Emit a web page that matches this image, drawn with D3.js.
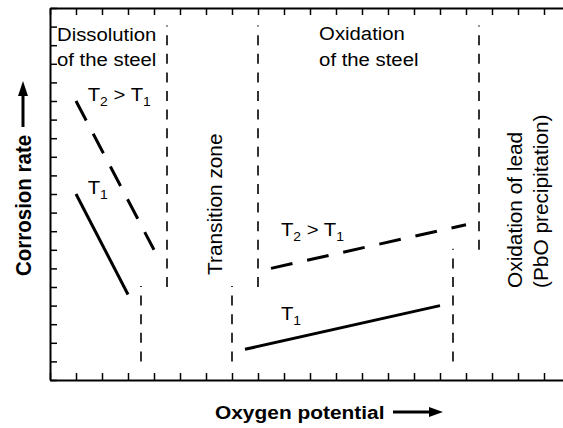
<!DOCTYPE html>
<html>
<head>
<meta charset="utf-8">
<script src="https://cdn.jsdelivr.net/npm/d3@7"></script>
<style>
  html, body { margin: 0; padding: 0; background: #fff; }
  svg { display: block; }
  text { font-family: "Liberation Sans", Arial, Helvetica, sans-serif; fill: #000; }
</style>
</head>
<body>
<div id="chart"></div>
<script>
// Region boundaries (vertical dashed lines), in chart units
const boundaryX = [3.5, 4.5, 7, 8, 15.5, 16.5];
const boundaryFrom = [1, 5, 1, 5, 1, 7];
const boundaryTo = [5, 19, 5, 19, 7, 19];

// Corrosion rate lines [oxygen potential, corrosion rate]
const dissolutionT1 = [[1, 10], [3, 4.6]];
const dissolutionT2 = [[1, 15], [4, 7]];
const oxidationT1 = [[7.5, 1.65], [15, 4]];
const oxidationT2 = [[8.5, 6], [16, 8.35]];

// Annotations: text parts, anchor (chart units)
const labels = [
  { parts: [['Dissolution']], x: 0.27, y: 18.25 },
  { parts: [['of the steel']], x: 0.27, y: 16.9 },
  { parts: [['T'], ['2', 'sub'], [' > T'], ['1', 'sub']], x: 1.45, y: 15.0 },
  { parts: [['T'], ['1', 'sub']], x: 1.45, y: 10.0 },
  { parts: [['Oxidation']], x: 10.35, y: 18.3 },
  { parts: [['of the steel']], x: 10.35, y: 16.9 },
  { parts: [['T'], ['2', 'sub'], [' > T'], ['1', 'sub']], x: 8.88, y: 7.74 },
  { parts: [['T'], ['1', 'sub']], x: 8.88, y: 3.2 },
  { parts: [['Transition zone']], x: 6.6, y: 5.65, rotate: true },
  { parts: [['Oxidation of lead']], x: 18.15, y: 4.95, rotate: true },
  { parts: [['(PbO precipitation)']], x: 19.15, y: 4.95, rotate: true }
];

const xTitle = 'Oxygen potential';
const yTitle = 'Corrosion rate';

const width = 563, height = 428;
const margin = { top: 8, left: 50, bottom: 48 };

const x = d3.scaleLinear().domain([0, 20]).range([margin.left, margin.left + 520]);
const y = d3.scaleLinear().domain([0, 20]).range([height - margin.bottom, margin.top]);

const svg = d3.select('#chart').append('svg')
  .attr('width', width)
  .attr('height', height);

// Frame with inward ticks
const tickSize = -7;
function styleAxis(g) {
  g.select('.domain').attr('stroke-width', 2);
  g.selectAll('.tick line').attr('stroke-width', 1.5);
  g.selectAll('.tick text').remove();
}
svg.append('g')
  .attr('transform', `translate(0,${y(0)})`)
  .call(d3.axisBottom(x).ticks(20).tickSize(tickSize).tickSizeOuter(0).tickFormat(''))
  .call(styleAxis);
svg.append('g')
  .attr('transform', `translate(0,${y(20)})`)
  .call(d3.axisTop(x).ticks(20).tickSize(tickSize).tickSizeOuter(0).tickFormat(''))
  .call(styleAxis);
svg.append('g')
  .attr('transform', `translate(${x(0)},0)`)
  .call(d3.axisLeft(y).ticks(20).tickSize(tickSize).tickSizeOuter(0).tickFormat(''))
  .call(styleAxis);
svg.append('g')
  .attr('transform', `translate(${x(20)},0)`)
  .call(d3.axisRight(y).ticks(20).tickSize(tickSize).tickSizeOuter(0).tickFormat(''))
  .call(styleAxis);

// Boundary lines (drawn bottom-up so the dash phase matches)
svg.append('g')
  .attr('stroke', '#000')
  .attr('stroke-width', 1.6)
  .attr('stroke-dasharray', '10,8.6')
  .selectAll('line')
  .data(boundaryX.map((bx, i) => ({ bx, y0: boundaryFrom[i], y1: boundaryTo[i] })))
  .join('line')
  .attr('x1', d => x(d.bx))
  .attr('x2', d => x(d.bx))
  .attr('y1', d => y(d.y0))
  .attr('y2', d => y(d.y1) - 1);

// Corrosion rate lines
const line = d3.line().x(d => x(d[0])).y(d => y(d[1]));
const series = [
  { pts: dissolutionT1, dashed: false },
  { pts: dissolutionT2, dashed: true },
  { pts: oxidationT1, dashed: false },
  { pts: oxidationT2, dashed: true }
];
svg.append('g')
  .attr('fill', 'none')
  .attr('stroke', '#000')
  .attr('stroke-width', 3)
  .selectAll('path')
  .data(series)
  .join('path')
  .attr('stroke-dasharray', d => d.dashed ? '22,15' : null)
  .attr('d', d => line(d.pts));

// Annotations (the original figure is a bit wider than tall)
const ann = svg.append('g').selectAll('text')
  .data(labels)
  .join('text')
  .attr('font-size', d => d.rotate ? 20.8 : 19)
  .attr('transform', d => `translate(${x(d.x)},${y(d.y)})` +
    (d.rotate ? ' rotate(-90)' : ' scale(1.07,1)'));
ann.each(function(d) {
  const t = d3.select(this);
  let prevSub = false;
  d.parts.forEach(([str, kind]) => {
    const sp = t.append('tspan').text(str);
    if (kind === 'sub') {
      sp.attr('font-size', 13).attr('dy', prevSub ? 0 : 5);
      prevSub = true;
    } else {
      if (prevSub) sp.attr('dy', -5);
      prevSub = false;
    }
  });
});

// Axis titles with arrows
svg.append('text')
  .attr('font-size', 19)
  .attr('font-weight', 'bold')
  .attr('transform', 'translate(215,419) scale(1.1,1)')
  .text(xTitle);
svg.append('line')
  .attr('x1', 393).attr('x2', 432).attr('y1', 412).attr('y2', 412)
  .attr('stroke', '#000').attr('stroke-width', 3);
svg.append('path')
  .attr('d', 'M429,407 L443,412 L429,417 Z')
  .attr('fill', '#000');

svg.append('text')
  .attr('font-size', 20.5)
  .attr('font-weight', 'bold')
  .attr('transform', 'translate(30.5,276) scale(1.05,1) rotate(-90)')
  .text(yTitle);
svg.append('line')
  .attr('x1', 23).attr('x2', 23).attr('y1', 127).attr('y2', 94)
  .attr('stroke', '#000').attr('stroke-width', 3);
svg.append('path')
  .attr('d', 'M18,96 L23,81 L28,96 Z')
  .attr('fill', '#000');
</script>
</body>
</html>
